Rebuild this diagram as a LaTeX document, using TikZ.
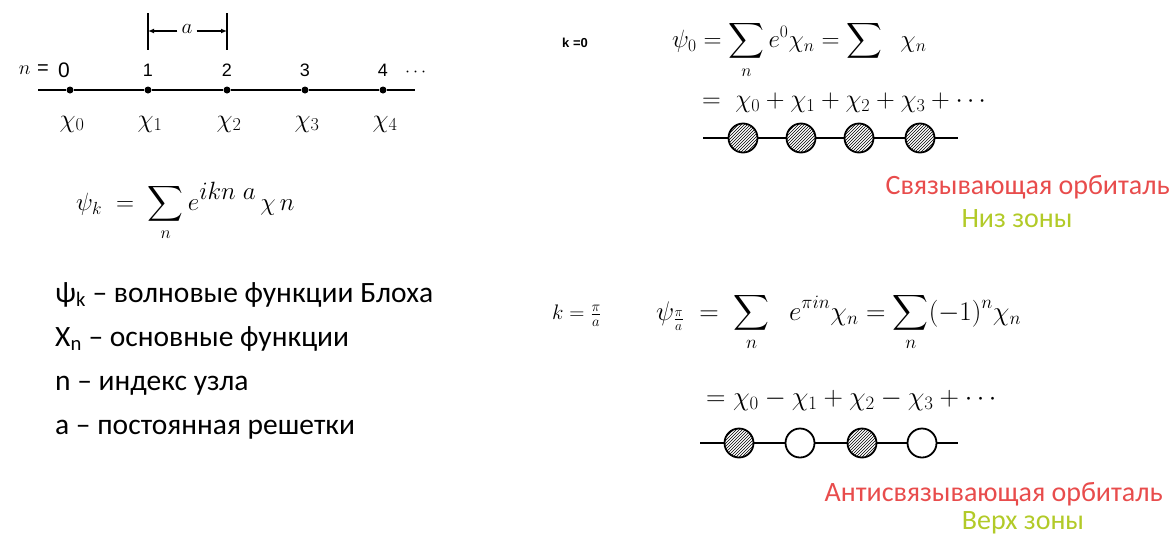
\RequirePackage{fix-cm}
\documentclass[tikz,border=0pt]{standalone}
\usepackage{exscale}
\usepackage{fontspec}
\setmainfont{Carlito}
\newfontfamily\scan{Liberation Sans}
\usetikzlibrary{patterns,arrows.meta}
\definecolor{redt}{RGB}{232,76,76}
\definecolor{greent}{RGB}{178,202,40}
\begin{document}
\begin{tikzpicture}[x=1pt,y=-1pt,
  dotn/.style={circle,fill=black,inner sep=0pt,minimum size=7pt},
  hat/.style={circle,draw=black,line width=1.8pt,minimum size=29pt,inner sep=0pt,pattern=north east lines},
  opn/.style={circle,draw=black,line width=1.8pt,minimum size=29pt,inner sep=0pt,fill=white},
  chain/.style={line width=1.8pt},
  lbl/.style={inner sep=0pt},
  num/.style={inner sep=0pt,font=\scan\fontsize{18}{20}\selectfont},
  chi/.style={inner sep=0pt,font=\fontsize{26}{28}\selectfont},
  eq/.style={inner sep=0pt,font=\fontsize{25}{28}\selectfont},
  eqb/.style={inner sep=0pt,font=\fontsize{27}{30}\selectfont},
  leg/.style={inner sep=0pt,anchor=base west,font=\fontsize{29.5}{32}\selectfont},
  colr/.style={inner sep=0pt,font=\fontsize{28}{30}\selectfont}]
\useasboundingbox (0,0) rectangle (1175,536);
% ---- top-left lattice ----
\coordinate (Ls) at (38,90);
\coordinate (Le) at (415,90);
\node[dotn] (d0) at (70,90) {};
\node[dotn] (d1) at (148,90) {};
\node[dotn] (d2) at (227,90) {};
\node[dotn] (d3) at (305,90) {};
\node[dotn] (d4) at (383,90) {};
\draw[line width=2pt] (Ls) -- (d0) -- (d1) -- (d2) -- (d3) -- (d4) -- (Le);
\node[num,anchor=east,font=\scan\fontsize{20}{22}\selectfont] (neq) at (49,70) {$n$\,\,=};
\node[num,font=\scan\fontsize{21}{22}\selectfont] (n0) at (64,70) {0};
\node[num] (n1) at (148,70) {1};
\node[num] (n2) at (227,70) {2};
\node[num] (n3) at (305,70) {3};
\node[num] (n4) at (383,70) {4};
\node[num,anchor=west] (ndots) at (405,72) {$\cdots$};
\node[chi] (x0) at (72,124) {$\chi_0$};
\node[chi] (x1) at (150,124) {$\chi_1$};
\node[chi] (x2) at (229,124) {$\chi_2$};
\node[chi] (x3) at (307,124) {$\chi_3$};
\node[chi] (x4) at (385,124) {$\chi_4$};
% spacing a
\coordinate (t1a) at (148,13);
\coordinate (t1b) at (148,50);
\coordinate (t2a) at (227,13);
\coordinate (t2b) at (227,50);
\draw[line width=1.4pt] (t1a) -- (t1b);
\draw[line width=1.4pt] (t2a) -- (t2b);
\node[num,font=\fontsize{21}{22}\selectfont] (a) at (187,29) {$a$};
\coordinate (ta1) at (148,31);
\coordinate (ta2) at (227,31);
\draw[line width=1.2pt,-{Latex[length=6pt,width=5pt]}] (a.west) ++(-4,2) -- (ta1);
\draw[line width=1.2pt,-{Latex[length=6pt,width=5pt]}] (a.east) ++(4,2) -- (ta2);
% Bloch formula
\node[eq,anchor=west] (bloch) at (76,212) {$\displaystyle \psi_k \;=\; \sum_n e^{\textstyle ikn\;a}\,\chi\, n$};
% legend
\node[leg] (l1) at (55,302) {ψ\textsubscript{k} – волновые функции Блоха};
\node[leg] (l2) at (55,346) {X\textsubscript{n} – основные функции};
\node[leg] (l3) at (55,390) {n – индекс узла};
\node[leg] (l4) at (55,434) {a – постоянная решетки};
% ---- k = 0 ----
\node[lbl,anchor=west,font=\scan\bfseries\fontsize{13}{15}\selectfont] (k0) at (562,43) {k =0};
\node[eq,anchor=west] (f0) at (672,50) {$\displaystyle \psi_0 = \sum_n e^0\chi_n = \sum\;\;\chi_n$};
\node[eq,anchor=west,font=\fontsize{26}{28}\selectfont] (f0b) at (702,103) {$=\;\chi_0 + \chi_1 + \chi_2 + \chi_3 + \cdots$};
\coordinate (c0s) at (703,138);
\coordinate (c0e) at (958,138);
\node[hat] (a1) at (743,138) {};
\node[hat] (a2) at (801,138) {};
\node[hat] (a3) at (859,138) {};
\node[hat] (a4) at (920,138) {};
\draw[chain] (c0s) -- (a1) -- (a2) -- (a3) -- (a4) -- (c0e);
\node[colr,anchor=east,text=redt] (bond) at (1170,187) {Связывающая орбиталь};
\node[colr,text=greent] (low) at (1017,219) {Низ зоны};
% ---- k = pi/a ----
\node[lbl,anchor=west,font=\fontsize{21}{22}\selectfont] (kp) at (552,316) {$k = \frac{\pi}{a}$};
\node[eqb,anchor=west] (fp) at (656,322) {$\displaystyle \psi_{\frac{\pi}{a}} \;=\; \sum_n \;\; e^{\pi i n}\chi_n = \sum_n (-1)^n\chi_n$};
\node[eqb,anchor=west] (fpb) at (706,400) {$=\chi_0 - \chi_1 + \chi_2 - \chi_3 + \cdots$};
\coordinate (cps) at (700,443);
\coordinate (cpe) at (958,443);
\node[hat] (b1) at (739,443) {};
\node[opn] (b2) at (800,443) {};
\node[hat] (b3) at (862,443) {};
\node[opn] (b4) at (922,443) {};
\draw[chain] (cps) -- (b1) -- (b2) -- (b3) -- (b4) -- (cpe);
\node[colr,anchor=east,text=redt] (anti) at (1163,494) {Антисвязывающая орбиталь};
\node[colr,text=greent] (top) at (1023,523) {Верх зоны};
\end{tikzpicture}
\end{document}
